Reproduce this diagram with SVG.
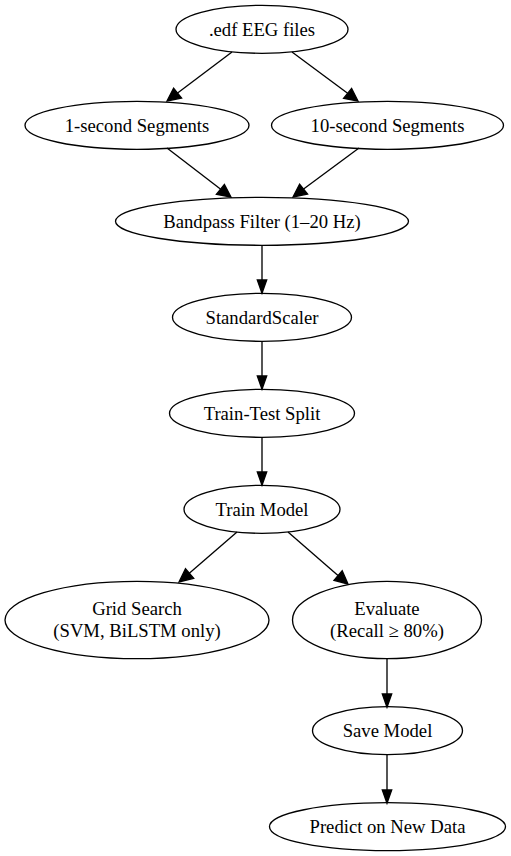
<svg xmlns="http://www.w3.org/2000/svg" width="511" height="856" viewBox="0 0 511 856">
<style>
  .node ellipse { fill: none; stroke: #000; stroke-width: 1.33; }
  .node text { font-family: "Liberation Serif", "Times New Roman", serif; font-size: 18.67px; fill: #000; text-anchor: middle; }
  .edge line { stroke: #000; stroke-width: 1.33; }
  .edge polygon { fill: #000; stroke: #000; stroke-width: 1.33; }
</style>
<rect width="511" height="856" fill="#fff"/>
<g id="connectors" class="edge">
  <line x1="232" y1="52" x2="177.6" y2="93"/>
  <polygon points="167,101 173.6,88.1 181.6,98.1"/>
  <line x1="292" y1="52" x2="347.6" y2="93.2"/>
  <polygon points="358,101 343.6,98.4 351.6,88.4"/>
  <line x1="167" y1="148" x2="220.4" y2="189"/>
  <polygon points="231,197 216.4,194.4 224.4,184.4"/>
  <line x1="359" y1="148" x2="303.6" y2="189"/>
  <polygon points="293,197 299.6,184.1 307.6,194.1"/>
  <line x1="262" y1="245.3" x2="262" y2="280"/>
  <polygon points="262,293.3 257.3,280 266.7,280"/>
  <line x1="262" y1="341.3" x2="262" y2="376"/>
  <polygon points="262,389.3 257.3,376 266.7,376"/>
  <line x1="262" y1="437.3" x2="262" y2="472"/>
  <polygon points="262,485.3 257.3,472 266.7,472"/>
  <line x1="237" y1="532" x2="189" y2="573.5"/>
  <polygon points="179,582 185.5,568.8 193.7,578.3"/>
  <line x1="288" y1="532" x2="338" y2="575.5"/>
  <polygon points="348,584 334,580.3 342.2,570.8"/>
  <line x1="387" y1="658.7" x2="387" y2="694"/>
  <polygon points="387,707.3 382.3,694 391.7,694"/>
  <line x1="387" y1="754.7" x2="387" y2="790"/>
  <polygon points="387,803.3 382.3,790 391.7,790"/>
</g>
<g id="edf" class="node">
  <ellipse cx="262" cy="29.3" rx="86" ry="24"/>
  <text x="262" y="35.7">.edf EEG files</text>
</g>
<g id="seg1" class="node">
  <ellipse cx="137" cy="125.3" rx="112" ry="24"/>
  <text x="137" y="131.7">1-second Segments</text>
</g>
<g id="seg10" class="node">
  <ellipse cx="387.5" cy="125.3" rx="116" ry="24"/>
  <text x="387.5" y="131.7">10-second Segments</text>
</g>
<g id="bandpass" class="node">
  <ellipse cx="262" cy="221.3" rx="146.5" ry="24"/>
  <text x="262" y="227.7">Bandpass Filter (1–20 Hz)</text>
</g>
<g id="scaler" class="node">
  <ellipse cx="262" cy="317.3" rx="89.5" ry="24"/>
  <text x="262" y="323.7">StandardScaler</text>
</g>
<g id="split" class="node">
  <ellipse cx="262" cy="413.3" rx="92.5" ry="24"/>
  <text x="262" y="419.7">Train-Test Split</text>
</g>
<g id="train" class="node">
  <ellipse cx="262" cy="509.3" rx="78" ry="24"/>
  <text x="262" y="515.7">Train Model</text>
</g>
<g id="grid" class="node">
  <ellipse cx="137" cy="620" rx="132" ry="38.7"/>
  <text x="137" y="614.8">Grid Search</text>
  <text x="137" y="637.2">(SVM, BiLSTM only)</text>
</g>
<g id="evaluate" class="node">
  <ellipse cx="387" cy="620" rx="94.5" ry="38.7"/>
  <text x="387" y="614.8">Evaluate</text>
  <text x="387" y="637.2">(Recall ≥ 80%)</text>
</g>
<g id="save" class="node">
  <ellipse cx="387.5" cy="730.7" rx="75" ry="24"/>
  <text x="387.5" y="737.1">Save Model</text>
</g>
<g id="predict" class="node">
  <ellipse cx="387.5" cy="826.7" rx="118" ry="24"/>
  <text x="387.5" y="833.1">Predict on New Data</text>
</g>
</svg>
